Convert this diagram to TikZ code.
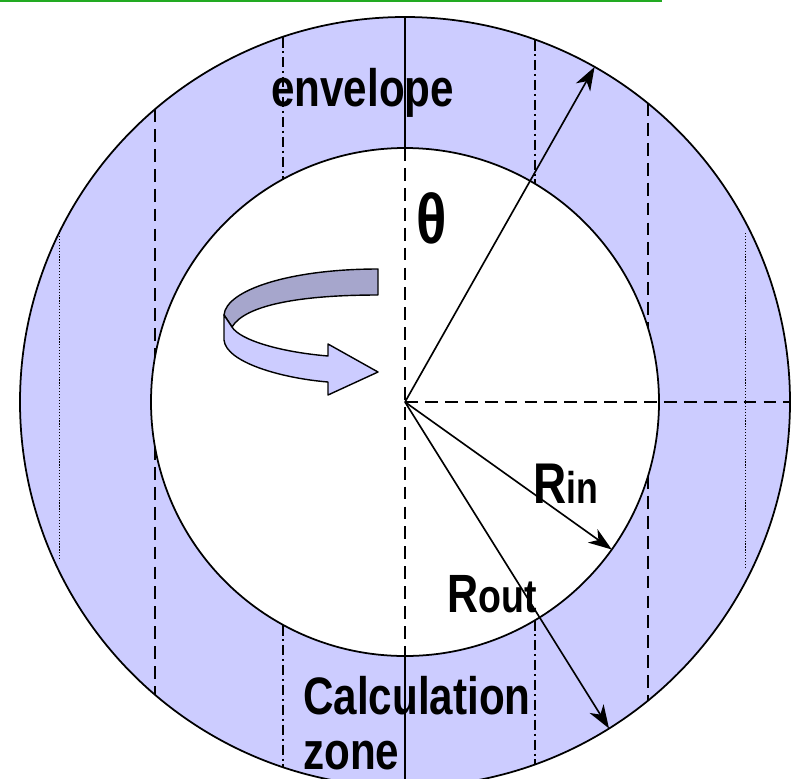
\documentclass[tikz,border=0pt]{standalone}
\usepackage{fontspec}
\newfontfamily\lblfont{Liberation Sans}[FakeStretch=0.8]
\usetikzlibrary{arrows.meta,calc}
\definecolor{ringblue}{RGB}{204,204,255}
\definecolor{ribbondark}{RGB}{166,166,204}
\definecolor{linegreen}{RGB}{34,170,34}
\tikzset{
  ringline/.style={line width=1.5pt},
  cutline/.style={line width=1.4pt, dash pattern=on 11pt off 6pt},
  dashdotline/.style={line width=1pt, dash pattern=on 9pt off 3pt on 2pt off 3pt},
  dotline/.style={line width=0.8pt, dash pattern=on 1pt off 1.5pt},
  radiusarrow/.style={line width=1.4pt, -{Stealth[length=20pt,width=14pt,inset=6pt]}},
  ribbon/.style={draw, line width=1.2pt, line join=round},
  biglabel/.style={font=\lblfont\bfseries\fontsize{45}{47}\selectfont, inner sep=0pt, align=left}
}

\begin{document}
\begin{tikzpicture}[x=0.03cm, y=-0.03cm]
  \useasboundingbox (0,0) rectangle (791,778);
  \clip (0,0) rectangle (791,778);
  \coordinate (ctr) at (405,402);
  \draw[linegreen, line width=1.8pt] (0,1) -- (662,1);

  % ring
  \fill[ringblue, even odd rule] (ctr) circle[radius=385] (ctr) circle[radius=254];
  \draw[ringline] (ctr) circle[radius=385];
  \draw[ringline] (ctr) circle[radius=254];

  % cuts through the ring
  \draw[ringline] (405,17) -- (405,148);
  \draw[ringline] (405,656) -- (405,787);
  \draw[cutline] (405,148) -- (405,656);
  \draw[cutline] (ctr) -- (790,402);
  \draw[cutline] (155,109) -- (155,357);
  \draw[cutline] (155,447) -- (155,695);
  \draw[cutline] (648,103) -- (648,328);
  \draw[cutline] (648,476) -- (648,701);
  \draw[dashdotline] (283,37) -- (283,179);
  \draw[dashdotline] (283,625) -- (283,767);
  \draw[dashdotline] (535,40) -- (535,184);
  \draw[dashdotline] (535,620) -- (535,764);
  \draw[dotline] (59,233) -- (59,560);
  \draw[dotline] (745,233) -- (745,568);

  % rotation ribbon
  \filldraw[ribbon, fill=ribbondark] (378,269) -- (378,295)
    .. controls (300,295) and (245,305) .. (232,327) -- (224,315)
    .. controls (226,290) and (290,269) .. (378,269) -- cycle;
  \filldraw[ribbon, fill=ringblue] (224,315) -- (224,340)
    .. controls (226,362) and (280,378) .. (328,382) -- (328,395) -- (378,372)
    -- (328,344) -- (328,356)
    .. controls (280,352) and (240,340) .. (232,327) -- cycle;

  % radii
  \coordinate (outerA) at ($(ctr)+(-60.5:385)$);
  \coordinate (innerB) at ($(ctr)+(35.5:254)$);
  \coordinate (outerC) at ($(ctr)+(58:385)$);
  \draw[radiusarrow] (ctr) -- (outerA);
  \draw[radiusarrow] (ctr) -- (innerB);
  \draw[radiusarrow] (ctr) -- (outerC);

  \node[biglabel, anchor=base west] (envelope) at (271,106) {envelope};
  \node[biglabel, anchor=base west, font=\lblfont\bfseries\fontsize{60}{60}\selectfont] (theta) at (416,243) {θ};
  \node[biglabel, anchor=base west] (rin) at (533,503)
    {{\fontsize{49}{50}\selectfont R}{\fontsize{38}{40}\selectfont in}};
  \node[biglabel, anchor=base west] (rout) at (447,612)
    {{\fontsize{46}{50}\selectfont R}{\fontsize{40}{40}\selectfont out}};
  \node[biglabel, anchor=north west] (calczone) at (303,676) {Calculation\\zone};
\end{tikzpicture}
\end{document}
